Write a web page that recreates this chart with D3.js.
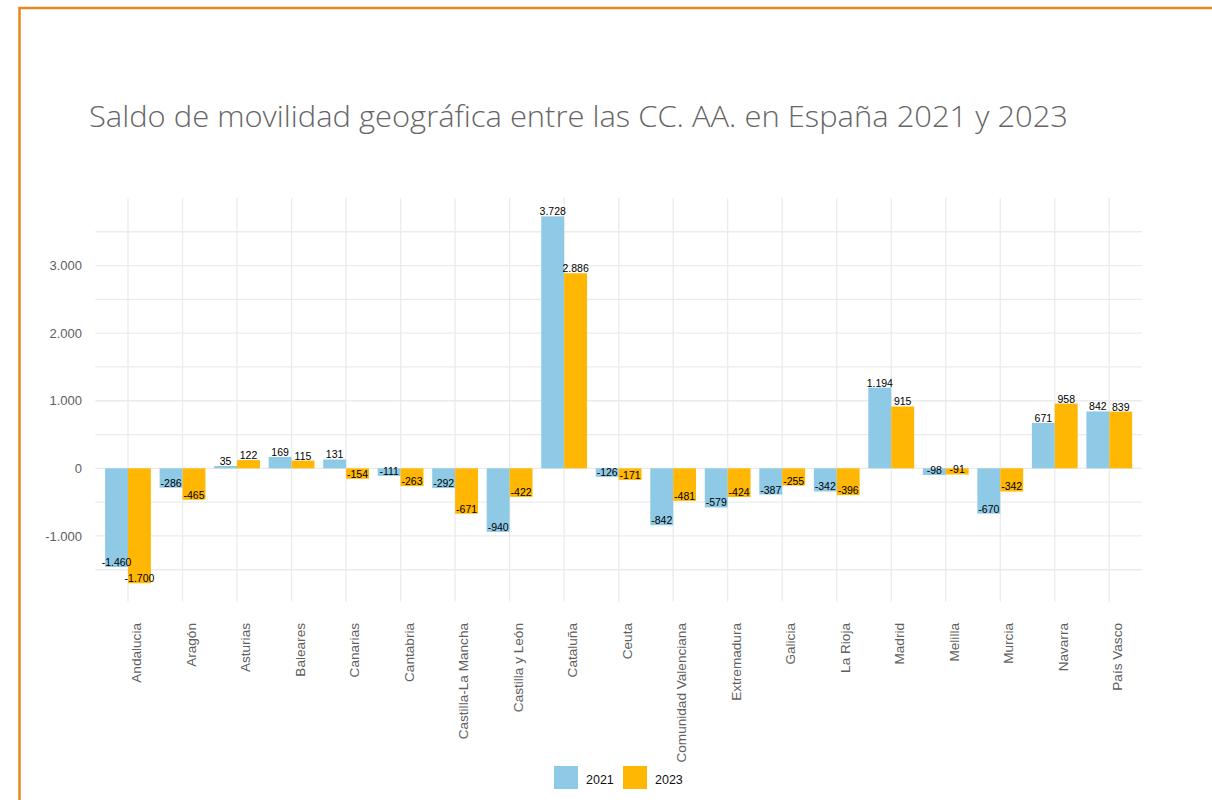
<!DOCTYPE html>
<html>
<head>
<meta charset="utf-8">
<script src="https://cdn.jsdelivr.net/npm/d3@7"></script>
<style>
  body { margin: 0; background: #fff; }
  svg { display: block; }
</style>
</head>
<body>
<svg id="chart"></svg>
<script>
// regiones y saldos
var regiones = ["Andalucia", "Aragón", "Asturias", "Baleares", "Canarias", "Cantabria",
    "Castilla-La Mancha", "Castilla y León", "Cataluña", "Ceuta", "Comunidad Valenciana",
    "Extremadura", "Galicia", "La Rioja", "Madrid", "Melilla", "Murcia", "Navarra", "País Vasco"];
var saldo2021 = [-1460, -286, 35, 169, 131, -111, -292, -940, 3728, -126, -842, -579, -387, -342, 1194, -98, -670, 671, 842];
var saldo2023 = [-1700, -465, 122, 115, -154, -263, -671, -422, 2886, -171, -481, -424, -255, -396, 915, -91, -342, 958, 839];
var anios = ["2021", "2023"];
var yTicks = [-1000, 0, 1000, 2000, 3000];
var yMinor = [-1500, -500, 500, 1500, 2500, 3500];

(function barChart() {

    var svg = d3.select("#chart").attr("width", 1212).attr("height", 800);

    var es = d3.formatLocale({decimal: ",", thousands: ".", grouping: [3], currency: ["", "€"], minus: "-"});
    var fmt = es.format(",d");

    var pLeft = 95.3, pRight = 1142, pTop = 198, pBottom = 601.6;

    // orange frame
    svg.append("rect")
        .attr("x", 19.5).attr("y", 8)
        .attr("width", 1300).attr("height", 900)
        .attr("fill", "none")
        .attr("stroke", "#e8871e")
        .attr("stroke-width", 2.5);

    svg.append("text")
        .attr("x", 89).attr("y", 127)
        .attr("font-family", "'Open Sans', sans-serif")
        .attr("font-weight", 300)
        .attr("font-size", 29)
        .attr("fill", "#666")
        .attr("textLength", 979)
        .attr("lengthAdjust", "spacingAndGlyphs")
        .text("Saldo de movilidad geográfica entre las CC. AA. en España 2021 y 2023");

    var data = regiones.map(function (r, i) {
        return {region: r, values: [saldo2021[i], saldo2023[i]]};
    });
    var all = saldo2021.concat(saldo2023);
    var lo = d3.min(all), hi = d3.max(all), pad = (hi - lo) * 0.05;

    var x = d3.scalePoint().domain(regiones).range([pLeft, pRight]).padding(0.6);
    var y = d3.scaleLinear().domain([lo - pad, hi + pad]).range([pBottom, pTop]);
    var x1 = d3.scaleBand().domain(anios).range([-x.step() * 0.42, x.step() * 0.42]);
    var z = d3.scaleOrdinal().domain(anios).range(["#8ecae6", "#ffb703"]);

    var grid = svg.append("g").attr("stroke", "#ebebeb").attr("stroke-width", 1.3);
    grid.selectAll("line.minor").data(yMinor).enter().append("line")
        .attr("class", "minor")
        .attr("x1", pLeft).attr("x2", pRight)
        .attr("y1", function (d) { return y(d); })
        .attr("y2", function (d) { return y(d); });
    grid.selectAll("line.major").data(yTicks).enter().append("line")
        .attr("class", "major")
        .attr("x1", pLeft).attr("x2", pRight)
        .attr("y1", function (d) { return y(d); })
        .attr("y2", function (d) { return y(d); });
    grid.selectAll("line.vert").data(regiones).enter().append("line")
        .attr("class", "vert")
        .attr("x1", function (d) { return x(d); }).attr("x2", function (d) { return x(d); })
        .attr("y1", pTop).attr("y2", pBottom);

    // y axis labels
    var yAxis = svg.append("g")
        .attr("transform", "translate(82,0)")
        .call(d3.axisLeft(y).tickValues(yTicks).tickFormat(fmt).tickSize(0).tickPadding(0));
    yAxis.select(".domain").remove();
    yAxis.selectAll("text")
        .attr("font-family", "'Liberation Sans', Arial, sans-serif")
        .attr("font-size", 13)
        .attr("fill", "#606060");

    // x axis labels
    var xAxis = svg.append("g")
        .attr("transform", "translate(0,623)")
        .call(d3.axisBottom(x).tickSize(0).tickPadding(0));
    xAxis.select(".domain").remove();
    xAxis.selectAll("text")
        .attr("font-family", "'Liberation Sans', Arial, sans-serif")
        .attr("font-size", 13.6)
        .attr("fill", "#606060")
        .attr("text-anchor", "end")
        .attr("transform", "rotate(-90)")
        .attr("x", 0).attr("y", 12.5).attr("dy", 0);

    var groups = svg.append("g").selectAll("g")
        .data(data)
        .enter().append("g")
        .attr("transform", function (d) { return "translate(" + x(d.region) + ",0)"; });

    groups.selectAll("rect")
        .data(function (d) { return anios.map(function (a, i) { return {anio: a, v: d.values[i]}; }); })
        .enter().append("rect")
        .attr("x", function (d) { return x1(d.anio); })
        .attr("width", x1.bandwidth())
        .attr("y", function (d) { return y(Math.max(0, d.v)); })
        .attr("height", function (d) { return Math.abs(y(d.v) - y(0)); })
        .attr("fill", function (d) { return z(d.anio); });

    groups.selectAll("text")
        .data(function (d) { return anios.map(function (a, i) { return {anio: a, v: d.values[i]}; }); })
        .enter().append("text")
        .attr("x", function (d) { return x1(d.anio) + x1.bandwidth() / 2; })
        .attr("y", function (d) { return y(d.v) - 1; })
        .attr("text-anchor", "middle")
        .attr("font-family", "'Liberation Sans', Arial, sans-serif")
        .attr("font-size", 10.5)
        .attr("fill", "#000")
        .text(function (d) { return fmt(d.v); });

    // legend
    var legend = svg.append("g").selectAll("g")
        .data(anios)
        .enter().append("g")
        .attr("transform", function (d, i) { return "translate(" + (554 + i * 69) + ",766)"; });
    legend.append("rect")
        .attr("width", 24).attr("height", 23)
        .attr("fill", z);
    legend.append("text")
        .attr("x", 32).attr("y", 18)
        .attr("font-family", "'Liberation Sans', Arial, sans-serif")
        .attr("font-size", 12.5)
        .attr("fill", "#111")
        .text(function (d) { return d; });

}());
</script>
</body>
</html>
